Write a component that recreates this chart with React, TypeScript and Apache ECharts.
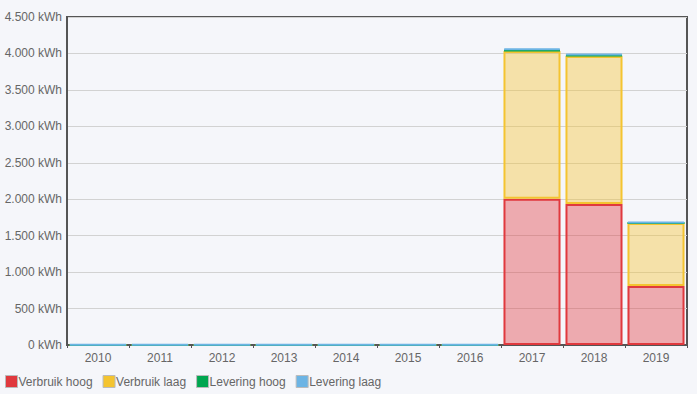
import React, { useEffect, useRef } from "react";
import * as echarts from "echarts";

const years = ["2010", "2011", "2012", "2013", "2014", "2015", "2016", "2017", "2018", "2019"];
const verbruikHoog = [0, 0, 0, 0, 0, 0, 0, 2005, 1935, 810];
const verbruikLaag = [0, 0, 0, 0, 0, 0, 0, 2030, 2030, 865];
const leveringHoog = [0, 0, 0, 0, 0, 0, 0, 14, 12, 0];
const leveringLaag = [10, 10, 10, 10, 10, 10, 10, 20, 18, 12];
const seriesNames = ["Verbruik hoog", "Verbruik laag", "Levering hoog", "Levering laag"];
const yTicks = [0, 500, 1000, 1500, 2000, 2500, 3000, 3500, 4000, 4500];

const BG = "#f5f6fa";
const FONT = "'Helvetica Neue', Helvetica, Arial, 'Liberation Sans', sans-serif";

const colors = [
  { border: "#e0393e", fill: "rgba(224,57,62,0.4)" },
  { border: "#f4c430", fill: "rgba(244,196,48,0.4)" },
  { border: "#00a650", fill: "rgba(0,166,80,0.4)" },
  { border: "#6cb4e4", fill: "rgba(108,180,228,0.4)" },
];

const fmt = (v: number) => String(v).replace(/\B(?=(\d{3})+(?!\d))/g, ".") + " kWh";

export default function App() {
  const ref = useRef<HTMLDivElement>(null);
  useEffect(() => {
    if (!ref.current) return;
    const chart = echarts.init(ref.current, undefined, { renderer: "svg" });
    const datas = [verbruikHoog, verbruikLaag, leveringHoog, leveringLaag];
    chart.setOption({
      animation: false,
      backgroundColor: BG,
      textStyle: { fontFamily: FONT },
      grid: {
        left: 67,
        right: 10,
        top: 17,
        bottom: 49,
        show: true,
        borderColor: "#555",
        borderWidth: 2,
        backgroundColor: "transparent",
      },
      legend: {
        left: 5,
        top: 375,
        padding: 0,
        icon: "rect",
        itemWidth: 12,
        itemHeight: 12,
        itemGap: 10,
        data: seriesNames.map((n, i) => ({
          name: n,
          itemStyle: { color: colors[i].border, borderColor: "#bbb", borderWidth: 1 },
        })),
        textStyle: { color: "#666", fontSize: 12, fontFamily: FONT, padding: [0, 0, 0, -4] },
      },
      xAxis: {
        type: "category",
        data: years,
        axisLine: { lineStyle: { color: "#555", width: 2 } },
        axisTick: { show: true, length: 3, lineStyle: { color: "#555" } },
        axisLabel: { color: "#666", fontSize: 12, margin: 7 },
        splitLine: { show: false },
      },
      yAxis: {
        type: "value",
        min: 0,
        max: yTicks[yTicks.length - 1],
        interval: 500,
        axisLine: { show: true, lineStyle: { color: "#555", width: 2 } },
        axisTick: { show: false },
        axisLabel: { color: "#666", fontSize: 12, margin: 5, formatter: (v: number) => fmt(v) },
        splitLine: { lineStyle: { color: "#d2d2d2", width: 1 } },
      },
      series: seriesNames.map((n, i) => ({
        name: n,
        type: "bar",
        stack: "total",
        barCategoryGap: "8%",
        data: datas[i],
        itemStyle: { color: colors[i].fill, borderColor: colors[i].border, borderWidth: 2 },
      })),
    });
    return () => chart.dispose();
  }, []);
  return (
    <div style={{ position: "fixed", left: 0, top: 0, width: 697, height: 394, background: BG }}>
      <div ref={ref} style={{ width: 697, height: 394 }} />
    </div>
  );
}
